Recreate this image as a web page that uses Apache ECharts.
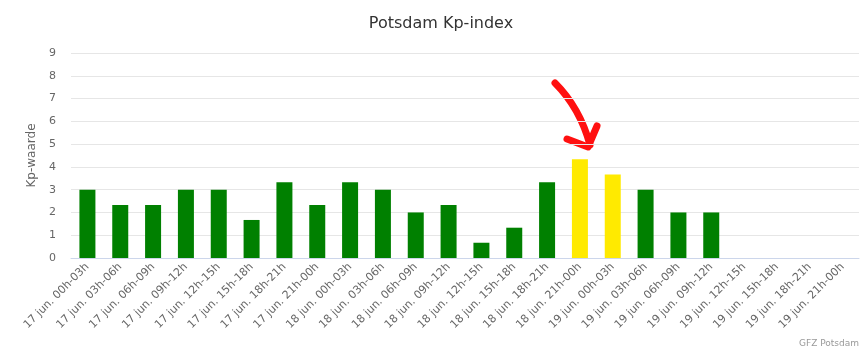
<!DOCTYPE html>
<html>
<head>
<meta charset="utf-8">
<script src="https://cdn.jsdelivr.net/npm/echarts@6/dist/echarts.min.js"></script>
<style>
  html, body { margin: 0; padding: 0; background: #fff; }
  #main { width: 865px; height: 352px; }
</style>
</head>
<body>
<div id="main"></div>
<script>
const categories = [
  '17 jun. 00h-03h', '17 jun. 03h-06h', '17 jun. 06h-09h', '17 jun. 09h-12h',
  '17 jun. 12h-15h', '17 jun. 15h-18h', '17 jun. 18h-21h', '17 jun. 21h-00h',
  '18 jun. 00h-03h', '18 jun. 03h-06h', '18 jun. 06h-09h', '18 jun. 09h-12h',
  '18 jun. 12h-15h', '18 jun. 15h-18h', '18 jun. 18h-21h', '18 jun. 21h-00h',
  '19 jun. 00h-03h', '19 jun. 03h-06h', '19 jun. 06h-09h', '19 jun. 09h-12h',
  '19 jun. 12h-15h', '19 jun. 15h-18h', '19 jun. 18h-21h', '19 jun. 21h-00h'
];
const kpValues = [
  3, 2.33, 2.33, 3, 3, 1.67, 3.33, 2.33,
  3.33, 3, 2, 2.33, 0.67, 1.33, 3.33, 4.33,
  3.67, 3, 2, 2, null, null, null, null
];
const yTicks = [0, 1, 2, 3, 4, 5, 6, 7, 8, 9];

const barData = kpValues.map(v => ({
  value: v,
  itemStyle: { color: v !== null && v > 3.5 ? '#ffea00' : '#008000' }
}));

const arrowStyle = { stroke: '#ff1010', lineWidth: 7, fill: null, lineCap: 'round', lineJoin: 'round' };

const chart = echarts.init(document.getElementById('main'));
chart.setOption({
  animation: false,
  title: {
    text: 'Potsdam Kp-index',
    left: 436, top: 11,
    textAlign: 'center',
    textStyle: { fontFamily: 'DejaVu Sans', fontSize: 16, fontWeight: 'normal', color: '#333' }
  },
  grid: { left: 71, right: 6, top: 53, bottom: 94 },
  xAxis: {
    type: 'category',
    data: categories,
    axisLine: { lineStyle: { color: '#ccd6eb' } },
    axisTick: { show: false },
    axisLabel: {
      rotate: 45, interval: 0, margin: 7,
      fontFamily: 'DejaVu Sans', fontSize: 11, color: '#666'
    }
  },
  yAxis: {
    type: 'value',
    min: yTicks[0], max: yTicks[yTicks.length - 1], interval: 1,
    name: 'Kp-waarde',
    nameLocation: 'middle',
    nameGap: 32,
    nameRotate: 90,
    nameTextStyle: { fontFamily: 'DejaVu Sans', fontSize: 12, color: '#666' },
    axisLabel: { fontFamily: 'DejaVu Sans', fontSize: 11, color: '#666', margin: 15 },
    splitLine: { lineStyle: { color: '#e6e6e6' } }
  },
  series: [{
    type: 'bar',
    data: barData,
    barWidth: 16
  }],
  graphic: [
    {
      type: 'text', right: 6, bottom: 4,
      style: { text: 'GFZ Potsdam', fontFamily: 'DejaVu Sans', fontSize: 9, fill: '#999' }
    },
    {
      // hand drawn red arrow
      type: 'bezierCurve',
      shape: { x1: 555, y1: 83, cpx1: 580, cpy1: 108, x2: 590, y2: 145 },
      style: arrowStyle
    },
    {
      type: 'polyline',
      shape: { points: [[567, 139], [588, 147], [597, 126]] },
      style: arrowStyle
    }
  ]
});
</script>
</body>
</html>
